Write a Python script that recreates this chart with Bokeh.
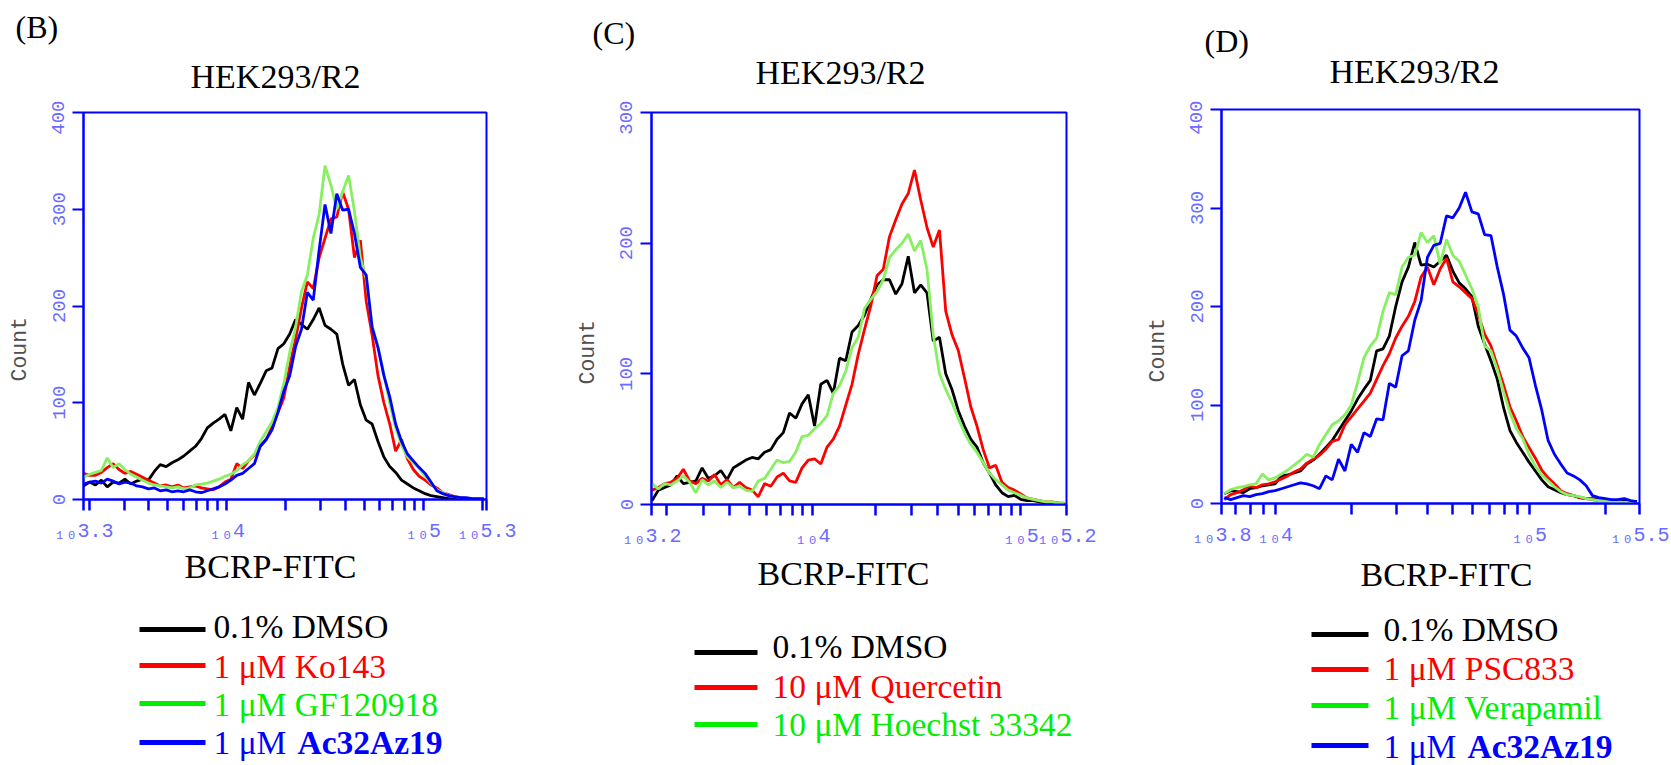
import math
import numpy as np
from bokeh.plotting import figure
from bokeh.models import Range1d, FixedTicker, CustomJSTickFormatter, Title
from bokeh.core.properties import value
from bokeh.layouts import row, column
from bokeh.embed import file_html
from bokeh.resources import INLINE

# ---------------- data (counts) ----------------
# bin positions: log10 of BCRP-FITC intensity, evenly spaced bins
B_LOG_START, B_LOG_STEP = 3.27, 0.03
C_LOG_START, C_LOG_STEP = 3.23, 0.03
D_LOG_START, D_LOG_STEP = 3.80, 0.025

B_DMSO = [14, 18, 15, 20, 13, 18, 17, 21, 16, 19,
          21, 20, 29, 36, 34, 38, 41, 45, 50, 55,
          63, 74, 79, 83, 88, 71, 95, 83, 121, 108,
          120, 133, 136, 156, 161, 171, 186, 181, 176, 186,
          198, 180, 176, 171, 140, 118, 124, 98, 82, 78,
          60, 44, 34, 28, 20, 16, 12, 9, 6, 4,
          3, 2, 1, 1, 0, 0, 0, 0, 0]
B_KO143 = [27, 25, 25, 28, 33, 37, 31, 27, 29, 26,
           23, 20, 17, 14, 15, 13, 15, 12, 13, 14,
           12, 11, 10, 13, 18, 21, 37, 32, 40, 46,
           55, 62, 75, 90, 105, 138, 166, 198, 225, 218,
           250, 270, 290, 292, 318, 300, 250, 268, 205, 170,
           128, 100, 78, 50, 62, 42, 31, 24, 20, 15,
           12, 7, 5, 3, 2, 1, 1, 0, 0]
B_GF120918 = [23, 26, 28, 30, 43, 33, 37, 31, 26, 23,
              20, 17, 15, 14, 13, 12, 13, 11, 12, 15,
              16, 17, 19, 21, 24, 26, 30, 36, 40, 47,
              60, 70, 80, 95, 120, 152, 178, 215, 232, 270,
              295, 345, 325, 300, 318, 335, 298, 250, 228, 180,
              158, 130, 99, 74, 56, 44, 38, 32, 24, 17,
              10, 7, 4, 3, 2, 1, 1, 1, 0]
B_AC32AZ19 = [16, 18, 19, 17, 21, 19, 16, 18, 17, 14,
              13, 11, 12, 9, 10, 8, 9, 8, 10, 8,
              7, 9, 11, 13, 16, 20, 25, 27, 32, 37,
              55, 62, 72, 90, 112, 128, 158, 176, 214, 206,
              258, 305, 275, 316, 299, 300, 275, 240, 232, 178,
              157, 128, 106, 78, 60, 47, 40, 33, 27, 18,
              9, 6, 4, 3, 2, 2, 1, 1, 1]

C_DMSO = [3, 11, 13, 15, 22, 16, 17, 18, 28, 20,
          22, 26, 19, 28, 31, 34, 36, 35, 40, 42,
          50, 55, 70, 66, 77, 84, 60, 92, 95, 85,
          112, 110, 132, 137, 145, 157, 168, 172, 172, 161,
          169, 190, 162, 168, 162, 125, 128, 100, 88, 72,
          60, 50, 44, 32, 24, 15, 9, 6, 7, 4,
          3, 3, 2, 1, 1, 1, 0]
C_QUERCETIN = [11, 13, 16, 17, 20, 27, 18, 16, 20, 18,
               23, 15, 19, 13, 17, 13, 11, 6, 16, 14,
               21, 24, 18, 17, 28, 34, 35, 31, 44, 50,
               60, 76, 92, 115, 134, 152, 175, 180, 205, 218,
               230, 238, 256, 233, 212, 197, 210, 148, 130, 118,
               97, 75, 60, 42, 28, 30, 17, 13, 11, 8,
               5, 4, 3, 2, 2, 1, 1]
C_HOECHST = [16, 12, 16, 15, 18, 22, 17, 9, 19, 15,
             18, 13, 17, 13, 14, 11, 10, 18, 20, 27,
             34, 32, 33, 40, 52, 53, 58, 62, 68, 85,
             91, 102, 120, 128, 150, 157, 163, 172, 189, 195,
             200, 207, 194, 202, 180, 130, 100, 88, 78, 66,
             55, 46, 40, 32, 24, 19, 15, 11, 9, 7,
             5, 4, 3, 2, 2, 1, 1]

D_DMSO = [10, 13, 12, 11, 15, 16, 18, 19, 20, 28,
          29, 31, 33, 40, 44, 50, 57, 64, 74, 84,
          94, 106, 116, 125, 155, 157, 170, 200, 225, 240,
          265, 242, 243, 240, 246, 252, 236, 224, 218, 210,
          180, 162, 145, 126, 97, 74, 62, 52, 42, 33,
          24, 17, 14, 11, 9, 8, 6, 5, 5, 4,
          3, 3, 2, 3, 2, 2]
D_PSC833 = [4, 9, 11, 14, 18, 16, 19, 20, 22, 25,
            28, 32, 35, 41, 45, 49, 55, 63, 65, 80,
            88, 96, 104, 112, 126, 140, 152, 168, 180, 190,
            205, 230, 240, 222, 238, 249, 225, 220, 214, 208,
            192, 172, 160, 140, 120, 98, 84, 68, 57, 46,
            34, 26, 20, 13, 10, 8, 6, 5, 4, 3,
            3, 2, 2, 1, 1, 1]
D_VERAPAMIL = [10, 14, 16, 17, 19, 20, 30, 24, 26, 30,
               34, 39, 44, 50, 47, 60, 70, 80, 84, 90,
               100, 123, 148, 160, 168, 195, 214, 212, 240, 250,
               252, 275, 265, 272, 243, 268, 252, 246, 232, 218,
               200, 160, 155, 136, 113, 92, 76, 66, 50, 38,
               29, 23, 17, 12, 9, 8, 7, 5, 4, 3,
               3, 2, 2, 1, 1, 1]
D_AC32AZ19 = [6, 4, 6, 8, 7, 9, 10, 12, 13, 15,
              17, 19, 21, 20, 18, 15, 28, 24, 45, 33,
              60, 52, 72, 68, 86, 85, 122, 118, 150, 155,
              186, 206, 250, 262, 264, 292, 290, 300, 316, 296,
              294, 273, 272, 240, 212, 176, 170, 158, 148, 120,
              95, 64, 50, 40, 31, 28, 24, 18, 8, 6,
              5, 4, 4, 5, 3, 2]

PANEL_LETTERS = ["(B)", "(C)", "(D)"]
PANEL_TITLE = "HEK293/R2"
X_TITLE = "BCRP-FITC"
Y_TITLE = "Count"
B_LABELS = ["0.1% DMSO", "1 \u03bcM Ko143", "1 \u03bcM GF120918", "1 \u03bcM Ac32Az19"]
C_LABELS = ["0.1% DMSO", "10 \u03bcM Quercetin", "10 \u03bcM Hoechst 33342"]
D_LABELS = ["0.1% DMSO", "1 \u03bcM PSC833", "1 \u03bcM Verapamil", "1 \u03bcM Ac32Az19"]
BOLD_PART = "Ac32Az19"

# axis limits (log10 of intensity) and tick labels
B_XLIM, C_XLIM, D_XLIM = (3.269, 5.323), (3.227, 5.220), (3.789, 5.435)
B_END_LABELS, C_END_LABELS, D_END_LABELS = ("3.3", "5.3"), ("3.2", "5.2"), ("3.8", "5.5")
B_YMAX, C_YMAX, D_YMAX = 400, 300, 400
YTICKS_B = [0, 100, 200, 300, 400]
YTICKS_C = [0, 100, 200, 300]
YTICKS_D = [0, 100, 200, 300, 400]

# ---------------- styling ----------------
SERIF = "Liberation Serif"
MONO = "Liberation Mono"
AXIS_BLUE = "#0000ff"
TICK_TEXT = "#6b6bff"
LINE_COLORS = ["#000000", "#ff0000", "#86f060", "#0000ff"]
LEG_COLORS = ["#000000", "#ff0000", "#00ee00", "#0000ff"]
SUB10 = "\u2081\u2080"
TXT_SHIFT = 11   # baseline correction for text glyphs
PANEL_W = 557
TOP_H = 100
H = 765


def log_ticks(lo, hi):
    t = [10 ** lo]
    for e in range(3, 6):
        for m in range(1, 10):
            v = m * 10 ** e
            if 10 ** lo * 1.004 < v < 10 ** hi / 1.004:
                t.append(v)
    t.append(10 ** hi)
    return t


def make_panel(series, xlim, end_labels, ymax, yticks, log_start, log_step, frame, main_h,
               count_offset):
    fl, fr, ft, fb = frame
    p = figure(width=PANEL_W, height=main_h, x_axis_type="log",
               x_range=Range1d(10 ** xlim[0], 10 ** xlim[1]),
               y_range=Range1d(0, ymax),
               output_backend="svg", toolbar_location=None,
               min_border_left=fl, min_border_right=fr,
               min_border_top=ft, min_border_bottom=fb)
    p.background_fill_color = "white"
    p.border_fill_color = "white"
    p.outline_line_color = AXIS_BLUE
    p.outline_line_width = 2
    p.xgrid.visible = False
    p.ygrid.visible = False

    # x axis: ticks at range ends and at every 1..9 x 10^k
    vals = [xlim[0], 4.0, 5.0, xlim[1]]
    labs = [SUB10 + end_labels[0], SUB10 + "4", SUB10 + "5", SUB10 + end_labels[1]]
    p.xaxis.ticker = FixedTicker(ticks=log_ticks(*xlim), minor_ticks=[])
    p.xaxis.formatter = CustomJSTickFormatter(
        args=dict(vals=vals, labs=labs),
        code="""
        const lg = Math.log10(tick);
        for (let i = 0; i < vals.length; i++) {
            if (Math.abs(lg - vals[i]) < 1e-4) { return labs[i]; }
        }
        return '';
        """)
    p.xaxis.major_label_text_font = MONO
    p.xaxis.major_label_text_font_size = "20px"
    p.xaxis.major_label_text_color = TICK_TEXT
    p.xaxis.major_label_standoff = 9
    p.xaxis.axis_line_color = AXIS_BLUE
    p.xaxis.axis_line_width = 2
    p.xaxis.major_tick_line_color = AXIS_BLUE
    p.xaxis.major_tick_line_width = 2.5
    p.xaxis.major_tick_out = 11
    p.xaxis.major_tick_in = 0
    p.xaxis.minor_tick_line_color = None

    # y axis
    p.yaxis.ticker = FixedTicker(ticks=yticks, minor_ticks=[])
    p.yaxis.major_label_orientation = "vertical"
    p.yaxis.major_label_text_font = MONO
    p.yaxis.major_label_text_font_size = "19px"
    p.yaxis.major_label_text_color = TICK_TEXT
    p.yaxis.major_label_standoff = 8
    p.yaxis.axis_line_color = AXIS_BLUE
    p.yaxis.axis_line_width = 2
    p.yaxis.major_tick_line_color = AXIS_BLUE
    p.yaxis.major_tick_line_width = 2
    p.yaxis.major_tick_out = 11
    p.yaxis.major_tick_in = 0
    p.yaxis.minor_tick_line_color = None

    # spacer + "Count" title on the left side
    p.add_layout(Title(text=" ", text_font_size="2px", standoff=9), "left")
    p.add_layout(Title(text=Y_TITLE, align="left", offset=count_offset,
                       text_font=MONO, text_font_size="21.5px", text_font_style="normal",
                       text_color="#505050", standoff=10), "left")

    # histograms
    n = len(series[0])
    xs = 10 ** (log_start + log_step * np.arange(n))
    for i, ys in enumerate(series):
        p.line(xs, ys, line_color=LINE_COLORS[i], line_width=2.8)
    return p


def strip(x0, y_top, height):
    s = figure(width=PANEL_W, height=height, x_range=Range1d(x0, x0 + PANEL_W),
               y_range=Range1d(y_top + height, y_top),
               output_backend="svg", toolbar_location=None,
               x_axis_location=None, y_axis_location=None, min_border=0)
    s.xgrid.visible = False
    s.ygrid.visible = False
    s.outline_line_color = None
    s.background_fill_color = "white"
    s.border_fill_color = "white"
    return s


def sh(v):
    return v - TXT_SHIFT


def build_column(idx, panel, main_h, letter_xy, title_xy, xlabel_xy, labels, legend):
    x0 = idx * PANEL_W
    top = strip(x0, 0, TOP_H)
    top.text(x=[letter_xy[0]], y=[sh(letter_xy[1])], text=[PANEL_LETTERS[idx]],
             text_font=value(SERIF), text_font_size=value("32px"), text_color="black",
             text_align="left", text_baseline="alphabetic")
    top.text(x=[title_xy[0]], y=[sh(title_xy[1])], text=[PANEL_TITLE],
             text_font=value(SERIF), text_font_size=value("34px"), text_color="black",
             text_align="center", text_baseline="alphabetic")

    y_bot = TOP_H + main_h
    bot = strip(x0, y_bot, H - y_bot)
    bot.text(x=[xlabel_xy[0]], y=[sh(xlabel_xy[1])], text=[X_TITLE],
             text_font=value(SERIF), text_font_size=value("34px"), text_color="black",
             text_align="center", text_baseline="alphabetic")

    (sx0, sx1), sys_, tx, tys = legend
    n = len(labels)
    bot.segment(x0=[sx0] * n, y0=sys_, x1=[sx1] * n, y1=sys_,
                line_color=LEG_COLORS[:n], line_width=5)
    heads, hx, hy, hc, bolds, bx, by, bc = [], [], [], [], [], [], [], []
    for i, lab in enumerate(labels):
        if lab.endswith(BOLD_PART):
            heads.append(lab[: -len(BOLD_PART)])
            bolds.append(BOLD_PART)
            bx.append(tx + 84)
            by.append(sh(tys[i]))
            bc.append(LEG_COLORS[i])
        else:
            heads.append(lab)
        hx.append(tx)
        hy.append(sh(tys[i]))
        hc.append(LEG_COLORS[i])
    bot.text(x=hx, y=hy, text=heads, text_color=hc,
             text_font=value(SERIF), text_font_size=value("33.5px"),
             text_align="left", text_baseline="alphabetic")
    if bolds:
        bot.text(x=bx, y=by, text=bolds, text_color=bc,
                 text_font=value(SERIF), text_font_size=value("33.5px"), text_font_style="bold",
                 text_align="left", text_baseline="alphabetic")
    # strips wrapped in their own rows so their frames are not aligned with the plot frame
    return column(row(top), panel, row(bot), spacing=0)


MAIN_B, MAIN_C, MAIN_D = 447, 452, 453
pB = make_panel([B_DMSO, B_KO143, B_GF120918, B_AC32AZ19], B_XLIM, B_END_LABELS,
                B_YMAX, YTICKS_B, B_LOG_START, B_LOG_STEP, (83, 71, 12, 48), MAIN_B, 118)
pC = make_panel([C_DMSO, C_QUERCETIN, C_HOECHST], C_XLIM, C_END_LABELS,
                C_YMAX, YTICKS_C, C_LOG_START, C_LOG_STEP, (94, 48, 12, 48), MAIN_C, 120)
pD = make_panel([D_DMSO, D_PSC833, D_VERAPAMIL, D_AC32AZ19], D_XLIM, D_END_LABELS,
                D_YMAX, YTICKS_D, D_LOG_START, D_LOG_STEP, (107, 32, 9, 50), MAIN_D, 121)

colB = build_column(0, pB, MAIN_B, (15, 37.5), (275, 87), (270, 577), B_LABELS,
                    ((139, 205), [629, 665, 703, 742], 213, [637, 677, 715, 753]))
colC = build_column(1, pC, MAIN_C, (592, 43), (840, 83), (843, 584), C_LABELS,
                    ((694, 757), [652, 687, 724], 772, [657, 697, 735]))
colD = build_column(2, pD, MAIN_D, (1204, 51), (1414, 82), (1446, 585), D_LABELS,
                    ((1311, 1368), [634, 669, 705, 745], 1383, [640, 679, 718, 757]))

layout = row(colB, colC, colD, spacing=0)
open("out.html", "w").write(file_html(layout, INLINE))
